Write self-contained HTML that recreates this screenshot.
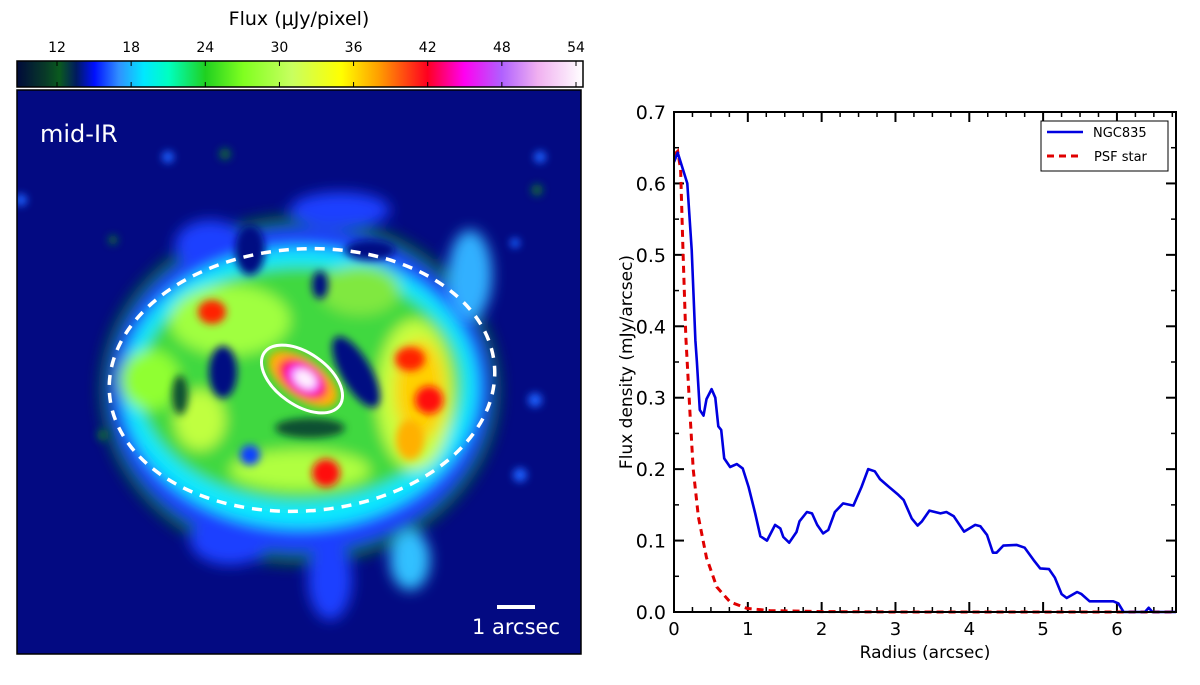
<!DOCTYPE html>
<html><head><meta charset="utf-8"><style>
body{margin:0;background:#fff;width:1200px;height:685px;overflow:hidden;font-family:"DejaVu Sans","Liberation Sans",sans-serif}
svg{position:absolute;left:0;top:0}
</style></head><body>
<svg width="1200" height="685" viewBox="0 0 1200 685" xmlns="http://www.w3.org/2000/svg">
<defs>
<linearGradient id="cmap" x1="0" x2="1" y1="0" y2="0">
<stop offset="0" stop-color="#000a3a"/>
<stop offset="0.05" stop-color="#083a28"/>
<stop offset="0.075" stop-color="#0a5a1e"/>
<stop offset="0.105" stop-color="#001a60"/>
<stop offset="0.137" stop-color="#0010ff"/>
<stop offset="0.18" stop-color="#3090ff"/>
<stop offset="0.224" stop-color="#00e8ff"/>
<stop offset="0.268" stop-color="#00ffc0"/>
<stop offset="0.333" stop-color="#20d020"/>
<stop offset="0.4" stop-color="#80ff20"/>
<stop offset="0.486" stop-color="#c8ff60"/>
<stop offset="0.573" stop-color="#ffff00"/>
<stop offset="0.638" stop-color="#ffa000"/>
<stop offset="0.725" stop-color="#ff0020"/>
<stop offset="0.79" stop-color="#ff00f0"/>
<stop offset="0.856" stop-color="#b060ff"/>
<stop offset="0.92" stop-color="#f0b0f0"/>
<stop offset="1" stop-color="#ffffff"/>
</linearGradient>
<filter id="bl" x="-30%" y="-30%" width="160%" height="160%"><feGaussianBlur stdDeviation="7"/></filter>
<filter id="bl2" x="-50%" y="-50%" width="200%" height="200%"><feGaussianBlur stdDeviation="4"/></filter>
<clipPath id="imgclip"><rect x="17" y="90" width="564" height="564"/></clipPath>
</defs>

<text x="299" y="25" font-size="19" text-anchor="middle">Flux (μJy/pixel)</text>
<rect x="17" y="61" width="566" height="26" fill="url(#cmap)" stroke="#000" stroke-width="1.5"/>
<g id="cbticks"></g>

<g clip-path="url(#imgclip)">
<rect x="17" y="90" width="564" height="564" fill="#030a82"/>
<g filter="url(#bl)">
<ellipse cx="300" cy="390" rx="200" ry="175" fill="#0a6030"/>
<ellipse cx="300" cy="390" rx="190" ry="162" fill="#1a40ff"/>
<ellipse cx="210" cy="245" rx="35" ry="25" fill="#1a40ff"/>
<ellipse cx="340" cy="210" rx="50" ry="18" fill="#1a40ff"/>
<ellipse cx="470" cy="275" rx="22" ry="45" fill="#30b0ff"/>
<ellipse cx="330" cy="580" rx="22" ry="40" fill="#1a40ff"/>
<ellipse cx="410" cy="560" rx="20" ry="30" fill="#30c0ff"/>
<ellipse cx="230" cy="540" rx="40" ry="25" fill="#1a40ff"/>
<ellipse cx="300" cy="388" rx="178" ry="140" fill="#10e8ff"/>
<ellipse cx="300" cy="384" rx="162" ry="118" fill="#40d840"/>
<ellipse cx="230" cy="320" rx="60" ry="35" fill="#a0ff40"/>
<ellipse cx="150" cy="380" rx="30" ry="30" fill="#90ff30"/>
<ellipse cx="415" cy="395" rx="38" ry="75" fill="#c8ff40"/>
<ellipse cx="420" cy="390" rx="25" ry="50" fill="#ffd000"/>
<ellipse cx="200" cy="420" rx="25" ry="30" fill="#c0ff40"/>
<ellipse cx="300" cy="470" rx="70" ry="20" fill="#b0ff40"/>
<ellipse cx="360" cy="290" rx="40" ry="25" fill="#80e840"/>
</g>
<g filter="url(#bl2)">
<ellipse cx="223" cy="372" rx="14" ry="26" fill="#030a82"/>
<ellipse cx="356" cy="372" rx="15" ry="40" transform="rotate(-30 356 372)" fill="#030a82"/>
<ellipse cx="320" cy="285" rx="8" ry="14" fill="#030a82"/>
<ellipse cx="250" cy="250" rx="15" ry="25" fill="#030a82"/>
<ellipse cx="370" cy="250" rx="25" ry="10" fill="#030a82"/>
<ellipse cx="180" cy="395" rx="8" ry="20" fill="#0a5030"/>
<ellipse cx="310" cy="428" rx="35" ry="10" fill="#0a5030"/>
<ellipse cx="250" cy="455" rx="10" ry="10" fill="#0a40ff"/>
<ellipse cx="212" cy="312" rx="14" ry="12" fill="#ff2000"/>
<ellipse cx="410" cy="359" rx="15" ry="12" fill="#ff2000"/>
<ellipse cx="429" cy="400" rx="14" ry="14" fill="#ff1010"/>
<ellipse cx="326" cy="473" rx="14" ry="14" fill="#ff1010"/>
<ellipse cx="410" cy="440" rx="14" ry="20" fill="#ffb000"/>
<ellipse cx="303" cy="379" rx="40" ry="20" transform="rotate(35 303 379)" fill="#ffb000"/>
<ellipse cx="303" cy="379" rx="28" ry="16" transform="rotate(35 303 379)" fill="#ff0050"/>
<ellipse cx="304" cy="379" rx="19" ry="12" transform="rotate(35 304 379)" fill="#f040ff"/>
<ellipse cx="305" cy="379" rx="12" ry="8" transform="rotate(35 305 379)" fill="#fff0ff"/>
<circle cx="168" cy="157" r="6" fill="#1a60ff"/>
<circle cx="225" cy="154" r="6" fill="#0a6040"/>
<circle cx="540" cy="157" r="6" fill="#1a60ff"/>
<circle cx="537" cy="190" r="6" fill="#0a6040"/>
<circle cx="21" cy="200" r="6" fill="#1a60ff"/>
<circle cx="103" cy="435" r="6" fill="#0a6040"/>
<circle cx="535" cy="400" r="7" fill="#1a60ff"/>
<circle cx="520" cy="475" r="7" fill="#1a60ff"/>
<circle cx="113" cy="240" r="5" fill="#0a6040"/>
<circle cx="515" cy="243" r="5" fill="#1a60ff"/>
</g>
<ellipse cx="302" cy="379" rx="46" ry="26" transform="rotate(35 302 379)" fill="none" stroke="#fff" stroke-width="3"/>
<ellipse cx="302" cy="380" rx="193" ry="131" transform="rotate(-4 302 380)" fill="none" stroke="#fff" stroke-width="3.5" stroke-dasharray="10 8"/>
<text x="40" y="142" font-size="24" fill="#fff">mid-IR</text>
<rect x="497" y="605" width="38" height="4" fill="#fff"/>
<text x="516" y="634" font-size="21" fill="#fff" text-anchor="middle">1 arcsec</text>
</g>
<rect x="17" y="90" width="564" height="564" fill="none" stroke="#000" stroke-width="1.5"/>

<g id="chart"></g>
</svg>
<script>
const radiusNGC=[0,0.05,0.18,0.24,0.29,0.31,0.35,0.40,0.44,0.51,0.56,0.60,0.64,0.68,0.76,0.85,0.93,1.01,1.10,1.17,1.26,1.37,1.44,1.48,1.56,1.66,1.70,1.80,1.87,1.94,2.02,2.09,2.18,2.29,2.43,2.54,2.63,2.72,2.79,2.88,3.04,3.11,3.22,3.30,3.36,3.46,3.61,3.69,3.79,3.93,4.08,4.15,4.24,4.32,4.37,4.46,4.64,4.75,4.87,4.96,5.08,5.16,5.25,5.32,5.46,5.52,5.63,5.95,6.02,6.09,6.38,6.43,6.48,6.8];
const fluxNGC=[0.63,0.643,0.60,0.507,0.38,0.35,0.283,0.275,0.298,0.312,0.30,0.26,0.255,0.215,0.203,0.207,0.201,0.175,0.138,0.106,0.10,0.122,0.117,0.105,0.097,0.112,0.127,0.140,0.138,0.122,0.11,0.115,0.14,0.152,0.149,0.175,0.20,0.197,0.186,0.178,0.164,0.157,0.131,0.121,0.127,0.142,0.138,0.14,0.134,0.1125,0.122,0.12,0.108,0.083,0.083,0.093,0.094,0.09,0.073,0.061,0.06,0.048,0.025,0.0196,0.028,0.025,0.015,0.015,0.012,0,0,0.006,0,0];
const radiusPSF=[0,0.05,0.09,0.12,0.16,0.22,0.26,0.33,0.44,0.58,0.76,0.99,1.3,2.0,3,4,5,6,6.8];
const fluxPSF=[0.64,0.645,0.62,0.51,0.386,0.273,0.2,0.133,0.076,0.035,0.014,0.005,0.002,0.0005,0,0,0,0,0];
const xTicks=[0,1,2,3,4,5,6];
const yTicks=[0.0,0.1,0.2,0.3,0.4,0.5,0.6,0.7];
const cbTicks=[12,18,24,30,36,42,48,54];

const NS='http://www.w3.org/2000/svg';
function mk(tag,attrs,parent){const e=document.createElementNS(NS,tag);for(const k in attrs)e.setAttribute(k,attrs[k]);parent.appendChild(e);return e;}
const L=674,R=1176,T=112,B=612,XMAX=6.8,YMAX=0.7;
const X=v=>L+(v/XMAX)*(R-L), Y=v=>B-(v/YMAX)*(B-T);
const g=document.getElementById('chart');

const cb=document.getElementById('cbticks');
const CBX=v=>57+(v-12)/42*(576-57);
cbTicks.forEach(t=>{
  mk('line',{x1:CBX(t),x2:CBX(t),y1:61,y2:66,stroke:'#000','stroke-width':1},cb);
  mk('line',{x1:CBX(t),x2:CBX(t),y1:82,y2:87,stroke:'#000','stroke-width':1},cb);
  const tx=mk('text',{x:CBX(t),y:52,'font-size':14,'text-anchor':'middle'},cb);
  tx.textContent=t;
  
  
});

for(let v=0;v<=XMAX+1e-9;v+=0.25){
  const maj=Math.abs(v-Math.round(v))<1e-9, len=maj?10:5;
  mk('line',{x1:X(v),x2:X(v),y1:B,y2:B-len,stroke:'#000','stroke-width':maj?2:1.5},g);
  mk('line',{x1:X(v),x2:X(v),y1:T,y2:T+len,stroke:'#000','stroke-width':maj?2:1.5},g);
}
for(let v=0;v<=YMAX+1e-9;v+=0.05){
  const maj=Math.abs(v*10-Math.round(v*10))<1e-9, len=maj?10:5;
  mk('line',{x1:L,x2:L+len,y1:Y(v),y2:Y(v),stroke:'#000','stroke-width':maj?2:1.5},g);
  mk('line',{x1:R,x2:R-len,y1:Y(v),y2:Y(v),stroke:'#000','stroke-width':maj?2:1.5},g);
}
xTicks.forEach(t=>{
  const tx=mk('text',{x:X(t),y:B+23,'font-size':18,'text-anchor':'middle'},g);
  tx.textContent=t;
  
  
});
yTicks.forEach(t=>{
  const tx=mk('text',{x:L-8,y:Y(t)+7,'font-size':19,'text-anchor':'end'},g);
  tx.textContent=t.toFixed(1);
  
  
});
const xl=mk('text',{x:(L+R)/2,y:658,'font-size':17,'text-anchor':'middle'},g);
xl.textContent='Radius (arcsec)';


const yl=mk('text',{x:0,y:0,'font-size':17,'text-anchor':'middle',transform:`translate(632 ${(T+B)/2}) rotate(-90)`},g);
yl.textContent='Flux density (mJy/arcsec)';



function path(xs,ys){return xs.map((x,i)=>(i?'L':'M')+X(x).toFixed(1)+' '+Y(ys[i]).toFixed(1)).join(' ');}
const cp=mk('clipPath',{id:'plotclip'},g);mk('rect',{x:L,y:T,width:R-L,height:B-T+2},cp);
const psf=mk('path',{d:path(radiusPSF,fluxPSF),fill:'none',stroke:'#e00000','stroke-width':3,'stroke-dasharray':'7 5','clip-path':'url(#plotclip)'},g);


const ngc=mk('path',{d:path(radiusNGC,fluxNGC),fill:'none',stroke:'#0000e0','stroke-width':2.6,'stroke-linejoin':'round','clip-path':'url(#plotclip)'},g);


mk('rect',{x:L,y:T,width:R-L,height:B-T,fill:'none',stroke:'#000','stroke-width':2},g);

const lg=mk('g',{},g);


mk('rect',{x:1041,y:121,width:127,height:50,fill:'#fff',stroke:'#000','stroke-width':1},lg);
mk('line',{x1:1047,x2:1083,y1:132,y2:132,stroke:'#0000e0','stroke-width':2.6},lg);
mk('line',{x1:1047,x2:1083,y1:156,y2:156,stroke:'#e00000','stroke-width':3,'stroke-dasharray':'7 5'},lg);
const t1=mk('text',{x:1093,y:137,'font-size':13},lg);t1.textContent='NGC835';


const t2=mk('text',{x:1094,y:161,'font-size':13},lg);t2.textContent='PSF star';


</script>
</body></html>
